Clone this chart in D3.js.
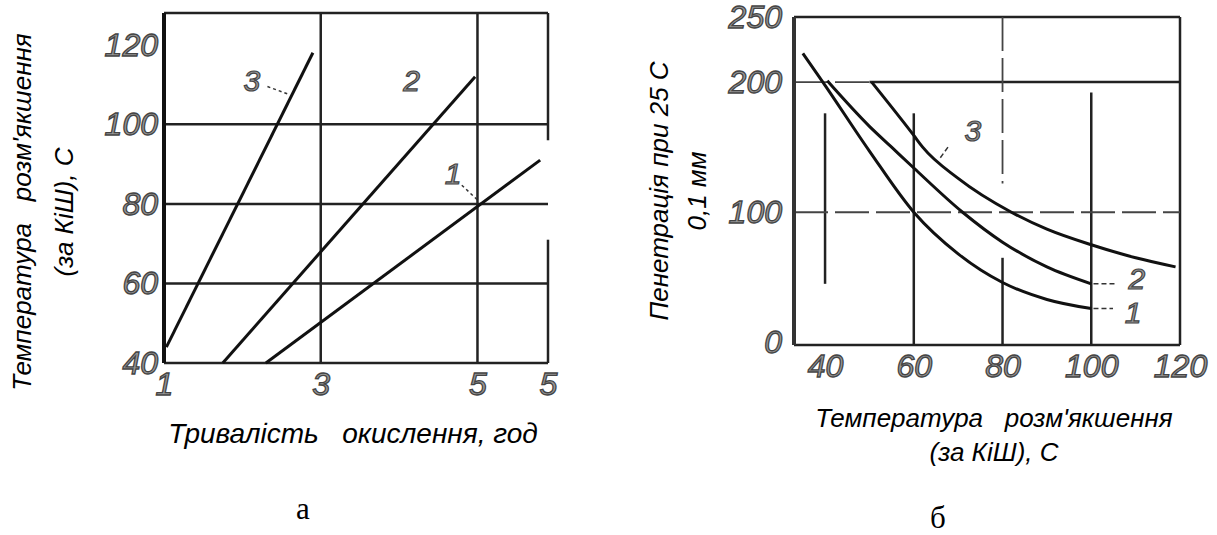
<!DOCTYPE html>
<html>
  <head>
    <meta charset="utf-8" />
    <script src="https://d3js.org/d3.v7.min.js"></script>
    <style>
      body { margin: 0; background: #fff; }
      .tick text {
        font-family: "Liberation Sans", Arial, sans-serif;
        font-style: italic;
        font-size: 32px;
        fill: #999;
        stroke: #444;
        stroke-width: 1.3px;
      }
      .title {
        font-family: "Liberation Sans", Arial, sans-serif;
        font-style: italic;
        font-size: 26px;
        fill: #000;
      }
      .panel {
        font-family: "Liberation Serif", "Times New Roman", serif;
        font-size: 31px;
        fill: #000;
      }
      .curve { fill: none; stroke: #111; stroke-width: 3px; }
      .grid { stroke: #222; stroke-width: 2.5px; }
      .lbl {
        font-family: "Liberation Sans", Arial, sans-serif;
        font-style: italic;
        font-size: 30px;
        fill: #999;
        stroke: #444;
        stroke-width: 1.2px;
      }
    </style>
  </head>
  <body>
    <svg id="chart" width="1217" height="535"></svg>
    <script>
      // ---- chart а: softening temperature vs oxidation time ----
      const aXTicks = [1, 3, 5, 5.9];
      const aXLabels = ["1", "3", "5", "5"];
      const aYTicks = [40, 60, 80, 100, 120];
      const aCurve1 = [[2.3, 40], [5.8, 91]];
      const aCurve2 = [[1.75, 40], [4.97, 112]];
      const aCurve3 = [[1.03, 44], [2.9, 118]];
      const aLabels = [
        { t: "3", x: 2.12, y: 111 },
        { t: "2", x: 4.16, y: 111 },
        { t: "1", x: 4.69, y: 87.7 },
      ];
      const aLeaders = [
        [[2.32, 109.5], [2.6, 107.5]],
        [[4.8, 84.7], [5.0, 81]],
      ];
      // gridlines / frame in data units
      const aGrid = [
        [[1, 60], [5.9, 60]],
        [[1, 80], [5.9, 80]],
        [[1, 100], [5.9, 100]],
        [[3, 40], [3, 128]],
        [[5, 40], [5, 128]],
        [[1, 128], [5.9, 128]],
        [[5.9, 128], [5.9, 96]],
        [[5.9, 71], [5.9, 40]],
        [[1, 40], [5.9, 40]],
      ];

      // ---- chart б: penetration vs softening temperature ----
      const bXTicks = [40, 60, 80, 100, 120];
      const bYTicks = [0, 100, 200, 250];
      const bYLabels = ["0", "100", "200", "250"];
      const bCurve1 = [[35, 222], [39.5, 200], [50, 147], [60, 100], [70, 68], [80, 46], [90, 33], [100, 26]];
      const bCurve2 = [[40.5, 201], [50, 166], [55, 150], [60, 134], [71, 100], [80, 77], [90, 58], [100, 45]];
      const bCurve3 = [[50.5, 200], [60, 159], [62, 150], [70, 126], [82, 100], [90, 87], [100, 75], [110, 65], [119, 58]];
      const bLabels = [
        { t: "3", x: 73.3, y: 163 },
        { t: "2", x: 110.3, y: 49 },
        { t: "1", x: 109.4, y: 23 },
      ];
      const bLeaders = [
        [[67.7, 150], [65.9, 141.5]],
        [[100.5, 45], [105.8, 45]],
        [[100.5, 26], [104.9, 26]],
      ];
      const bGrid = [
        [[50, 200], [120, 200]],
        [[40, 176], [40, 45]],
        [[60, 176], [60, -2]],
        [[80, 65], [80, -2]],
        [[100, 192], [100, -2]],
        [[33, 250], [120, 250]],
        [[120, 250], [120, -2]],
        [[33, -2], [120, -2]],
      ];
      const bGridDashed = [
        [[33, 200], [50, 200]],
        [[33, 100], [120, 100]],
        [[80, 250], [80, 122]],
      ];

      const svg = d3.select("svg#chart");
      svg.append("rect").attr("width", 1217).attr("height", 535).attr("fill", "#fff");

      // ===== chart а =====
      const ax = d3.scaleLinear().domain([1, 5.9]).range([164, 548]);
      const ay = d3.scaleLinear().domain([40, 128]).range([363, 13]);
      const ga = svg.append("g");
      const aLine = d3.line().x((d) => ax(d[0])).y((d) => ay(d[1]));

      ga.selectAll("line.grid")
        .data(aGrid)
        .join("line")
        .attr("class", "grid")
        .attr("x1", (d) => ax(d[0][0]))
        .attr("y1", (d) => ay(d[0][1]))
        .attr("x2", (d) => ax(d[1][0]))
        .attr("y2", (d) => ay(d[1][1]));
      ga.append("line")
        .attr("x1", ax(1)).attr("x2", ax(1))
        .attr("y1", ay(128)).attr("y2", ay(40))
        .attr("stroke", "#111").attr("stroke-width", 4);

      ga.selectAll("path.curve")
        .data([aCurve1, aCurve2, aCurve3])
        .join("path")
        .attr("class", "curve")
        .attr("d", aLine);

      ga.selectAll("path.leader")
        .data(aLeaders)
        .join("path")
        .attr("class", "leader")
        .attr("d", aLine)
        .attr("stroke", "#333")
        .attr("stroke-width", 1.5)
        .attr("stroke-dasharray", "3,3")
        .attr("fill", "none");

      ga.selectAll("text.lbl")
        .data(aLabels)
        .join("text")
        .attr("class", "lbl")
        .attr("x", (d) => ax(d.x))
        .attr("y", (d) => ay(d.y))
        .attr("dy", "0.35em")
        .attr("text-anchor", "middle")
        .text((d) => d.t);

      ga.append("g")
        .attr("transform", `translate(${ax(1)},0)`)
        .call(d3.axisLeft(ay).tickValues(aYTicks).tickSize(0).tickPadding(6))
        .call((g) => g.select(".domain").remove());
      ga.append("g")
        .attr("transform", `translate(0,${ay(40)})`)
        .call(
          d3.axisBottom(ax).tickValues(aXTicks).tickSize(0).tickPadding(9)
            .tickFormat((d, i) => aXLabels[i])
        )
        .call((g) => g.select(".domain").remove());

      ga.append("text")
        .attr("class", "title")
        .attr("transform", "translate(31,212) rotate(-90)")
        .attr("text-anchor", "middle")
        .attr("xml:space", "preserve")
        .text("Температура   розм'якшення");
      ga.append("text")
        .attr("class", "title")
        .attr("transform", "translate(73,212) rotate(-90)")
        .attr("text-anchor", "middle")
        .text("(за КіШ), С");
      ga.append("text")
        .attr("class", "title")
        .attr("x", 353)
        .attr("y", 443)
        .attr("text-anchor", "middle")
        .attr("xml:space", "preserve")
        .style("font-size", "28px")
        .text("Тривалість   окислення, год");
      ga.append("text")
        .attr("class", "panel")
        .attr("x", 303)
        .attr("y", 519)
        .attr("text-anchor", "middle")
        .text("а");

      // ===== chart б =====
      const bx = d3.scaleLinear().domain([33, 120]).range([794, 1180]);
      const by = d3.scaleLinear().domain([-2, 250]).range([345, 17]);
      const gb = svg.append("g");
      const bLine = d3.line().x((d) => bx(d[0])).y((d) => by(d[1]));

      gb.selectAll("line.grid")
        .data(bGrid)
        .join("line")
        .attr("class", "grid")
        .attr("x1", (d) => bx(d[0][0]))
        .attr("y1", (d) => by(d[0][1]))
        .attr("x2", (d) => bx(d[1][0]))
        .attr("y2", (d) => by(d[1][1]));
      gb.selectAll("line.dgrid")
        .data(bGridDashed)
        .join("line")
        .attr("class", "dgrid")
        .attr("stroke", "#444")
        .attr("stroke-width", 1.8)
        .attr("stroke-dasharray", "34,7")
        .attr("x1", (d) => bx(d[0][0]))
        .attr("y1", (d) => by(d[0][1]))
        .attr("x2", (d) => bx(d[1][0]))
        .attr("y2", (d) => by(d[1][1]));
      gb.append("line")
        .attr("x1", bx(33)).attr("x2", bx(33))
        .attr("y1", by(250)).attr("y2", by(-2))
        .attr("stroke", "#333").attr("stroke-width", 4);

      gb.selectAll("path.curve")
        .data([bCurve1, bCurve2, bCurve3])
        .join("path")
        .attr("class", "curve")
        .attr("d", bLine.curve(d3.curveMonotoneX));

      gb.selectAll("path.leader")
        .data(bLeaders)
        .join("path")
        .attr("class", "leader")
        .attr("d", d3.line().x((d) => bx(d[0])).y((d) => by(d[1])))
        .attr("stroke", "#333")
        .attr("stroke-width", 1.5)
        .attr("stroke-dasharray", "5,3")
        .attr("fill", "none");

      gb.selectAll("text.lbl")
        .data(bLabels)
        .join("text")
        .attr("class", "lbl")
        .attr("x", (d) => bx(d.x))
        .attr("y", (d) => by(d.y))
        .attr("dy", "0.35em")
        .attr("text-anchor", "middle")
        .text((d) => d.t);

      gb.append("g")
        .attr("transform", `translate(${bx(33)},0)`)
        .call(
          d3.axisLeft(by).tickValues(bYTicks).tickSize(0).tickPadding(12)
            .tickFormat((d, i) => bYLabels[i])
        )
        .call((g) => g.select(".domain").remove());
      gb.append("g")
        .attr("transform", `translate(0,${by(-2)})`)
        .call(d3.axisBottom(bx).tickValues(bXTicks).tickSize(0).tickPadding(9))
        .call((g) => g.select(".domain").remove());

      gb.append("text")
        .attr("class", "title")
        .attr("transform", "translate(668,191) rotate(-90)")
        .attr("text-anchor", "middle")
        .text("Пенетрація при 25 С");
      gb.append("text")
        .attr("class", "title")
        .attr("transform", "translate(706,191) rotate(-90)")
        .attr("text-anchor", "middle")
        .text("0,1 мм");
      gb.append("text")
        .attr("class", "title")
        .attr("x", 994)
        .attr("y", 427)
        .attr("text-anchor", "middle")
        .attr("xml:space", "preserve")
        .text("Температура   розм'якшення");
      gb.append("text")
        .attr("class", "title")
        .attr("x", 994)
        .attr("y", 461)
        .attr("text-anchor", "middle")
        .text("(за КіШ), С");
      gb.append("text")
        .attr("class", "panel")
        .attr("x", 938)
        .attr("y", 528)
        .attr("text-anchor", "middle")
        .text("б");
    </script>
  </body>
</html>
